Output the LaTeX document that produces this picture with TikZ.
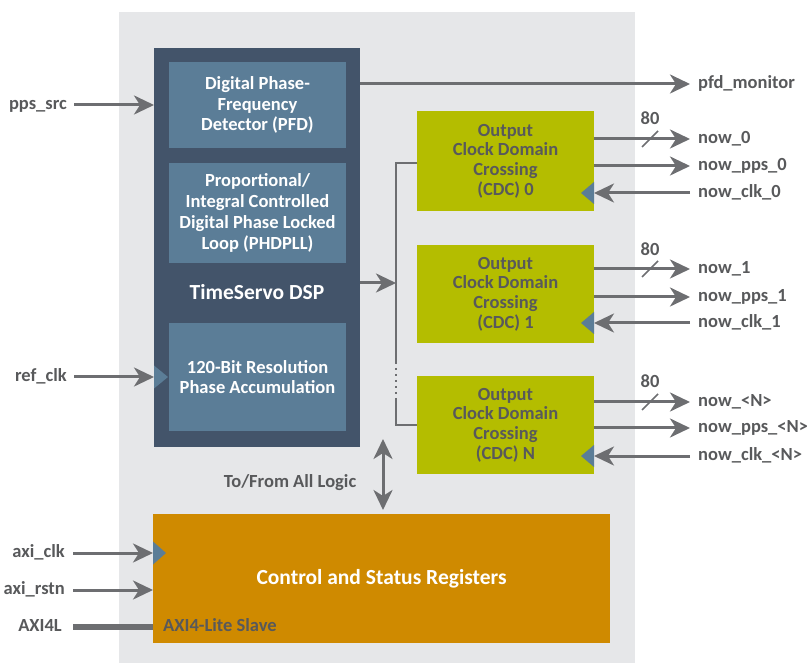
\documentclass[tikz,border=0pt]{standalone}
\usepackage{fontspec}
\setmainfont{Carlito}
\usetikzlibrary{arrows.meta}
\definecolor{bg}{HTML}{E6E7E9}
\definecolor{dsp}{HTML}{43546A}
\definecolor{blk}{HTML}{5B7D97}
\definecolor{cdc}{HTML}{B4BD00}
\definecolor{csr}{HTML}{CF8A00}
\definecolor{ln}{HTML}{6D6E71}
\definecolor{txt}{HTML}{58595B}
\newcommand\myfs[2]{\fontsize{#1}{#2}\selectfont}
\begin{document}
\begin{tikzpicture}[x=1pt,y=-1pt,
  box/.style={inner sep=0pt, outer sep=0pt, draw=none, align=center},
  lbl/.style={text=txt, font=\bfseries\myfs{18.5}{20}, inner sep=0pt, text height=12.5pt, text depth=3.7pt},
  wtxt/.style={text=white, font=\bfseries\myfs{18.5}{20.8}},
  ctxt/.style={text=txt, font=\bfseries\myfs{18.5}{19.7}},
  arr/.style={draw=ln, line width=3pt, -{Stealth[length=20pt,width=19pt,inset=6pt]}},
  darr/.style={draw=ln, line width=3pt, {Stealth[length=20pt,width=19pt,inset=6pt]}-{Stealth[length=20pt,width=19pt,inset=6pt]}},
  bus/.style={draw=ln, line width=2.5pt},
  clk/.style={fill=blk}]
\useasboundingbox (0,0) rectangle (807,663);
% background
\node[box, fill=bg, minimum width=516pt, minimum height=651pt] (bgbox) at (377,337.5) {};
% DSP
\node[box, fill=dsp, minimum width=206pt, minimum height=399pt] (dsp) at (257,247.5) {};
\node[box, fill=blk, minimum width=177pt, minimum height=86pt, wtxt] (pfd) at (257.5,105) {Digital Phase-\\Frequency\\Detector (PFD)};
\node[box, fill=blk, minimum width=177pt, minimum height=100pt, wtxt] (pll) at (257.5,213) {Proportional/\\Integral Controlled\\Digital Phase Locked\\Loop (PHDPLL)};
\node[box, fill=blk, minimum width=177pt, minimum height=108pt, wtxt] (acc) at (257.5,377) {120-Bit Resolution\\Phase Accumulation};
\node[text=white, font=\bfseries\myfs{21.5}{24}, inner sep=0pt] (dsplbl) at (257,292) {TimeServo DSP};
% CDC blocks
\node[box, fill=cdc, minimum width=177pt, minimum height=100pt, ctxt] (cdc0) at (505.5,161) {Output\\Clock Domain\\Crossing\\(CDC) 0};
\node[box, fill=cdc, minimum width=177pt, minimum height=98pt, ctxt] (cdc1) at (505.5,294) {Output\\Clock Domain\\Crossing\\(CDC) 1};
\node[box, fill=cdc, minimum width=177pt, minimum height=98pt, ctxt] (cdcN) at (505.5,425) {Output\\Clock Domain\\Crossing\\(CDC) N};
% CSR
\node[box, fill=csr, minimum width=457pt, minimum height=129pt, text=white, font=\bfseries\myfs{21.5}{24}] (csr) at (381.5,578.5) {Control and Status Registers};
\node[lbl, anchor=west] (axis) at (163,627) {AXI4-Lite Slave};
% left inputs
\coordinate (ppsA) at (74,105);
\node[lbl, anchor=east] (ppsL) at (67,105) {pps\_src};
\draw[arr] (ppsA) -- (ppsA -| dsp.west);
\coordinate (refA) at (74,377);
\node[lbl, anchor=east] (refL) at (67,377) {ref\_clk};
\draw[arr] (refA) -- (refA -| dsp.west);
\fill[clk] (dsp.west |- refA) ++(0,-11.5) -- ++(0,23) -- ++(14,-11.5) -- cycle;
\coordinate (aclkA) at (73,553);
\node[lbl, anchor=east] (aclkL) at (65,553) {axi\_clk};
\draw[arr] (aclkA) -- (aclkA -| csr.west);
\fill[clk] (csr.west |- aclkA) ++(0,-11.5) -- ++(0,23) -- ++(13,-11.5) -- cycle;
\coordinate (arstA) at (73,590);
\node[lbl, anchor=east] (arstL) at (65,590) {axi\_rstn};
\draw[arr] (arstA) -- (arstA -| csr.west);
\coordinate (axiA) at (73,627);
\node[lbl, anchor=east] (axiL) at (62,627) {AXI4L};
\draw[draw=ln, line width=6pt] (axiA) -- (axiA -| csr.west);
% PFD monitor
\coordinate (pfdA) at (690,84);
\node[lbl, anchor=west] (pfdL) at (698,84) {pfd\_monitor};
\draw[arr] (dsp.east |- pfdA) -- (pfdA);
% bus
\coordinate (busA) at (396,283);
\coordinate (b0) at (396,163);
\coordinate (d1) at (396,362);
\coordinate (d2) at (396,399);
\coordinate (bN) at (396,425);
\draw[arr] (dsp.east |- busA) -- (busA);
\draw[bus] (cdc0.west |- b0) -- (b0) -- (d1);
\draw[bus, dash pattern=on 2.5pt off 3.5pt] (d1) -- (d2);
\draw[bus] (d2) -- (bN) -- (cdcN.west |- bN);
% to/from all logic
\coordinate (bi1) at (383,439);
\coordinate (bi2) at (383,510);
\draw[darr] (bi1) -- (bi2);
\node[lbl] (tfl) at (290,483) {To/From All Logic};
% CDC outputs
\foreach \s/\b/\i/\ya/\yb/\yc/\yn in {0/cdc0/0/139/166/193/120, 1/cdc1/1/269/297/323/251, {<N>}/cdcN/2/402/428/456/383} {
  \coordinate (ta\i) at (690,\ya);
  \coordinate (tb\i) at (690,\yb);
  \coordinate (tc\i) at (690,\yc);
  \node[lbl, anchor=west] (la\i) at (698,\ya) {now\_\s};
  \node[lbl, anchor=west] (lb\i) at (698,\yb) {now\_pps\_\s};
  \node[lbl, anchor=west] (lc\i) at (698,\yc) {now\_clk\_\s};
  \draw[arr] (\b.east |- ta\i) -- (ta\i);
  \draw[arr] (\b.east |- tb\i) -- (tb\i);
  \draw[arr] (tc\i) -- (\b.east |- tc\i);
  \fill[clk] (\b.east |- tc\i) ++(0,-11) -- ++(0,22) -- ++(-13,-11) -- cycle;
  \draw[draw=ln, line width=1.5pt] (642,\ya+8) -- (658,\ya-8);
  \node[lbl] (n80\i) at (650,\yn) {80};
}
\end{tikzpicture}
\end{document}
